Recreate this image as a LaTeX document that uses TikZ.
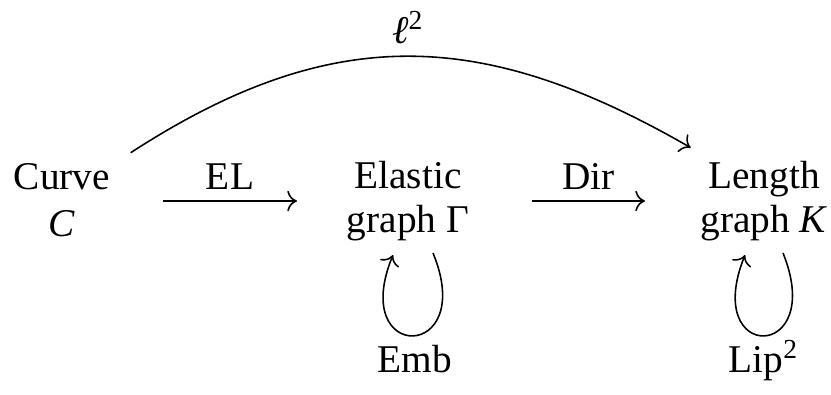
\documentclass[tikz,border=0pt]{standalone}
\usepackage{fontspec}
\setmainfont{Liberation Serif}
\usetikzlibrary{arrows.meta,calc}
\begin{document}
\begin{tikzpicture}[x=0.25445pt,y=0.25445pt,
  lbl/.style={inner sep=0pt,anchor=base,font=\fontsize{10}{12}\selectfont},
  arr/.style={-{Computer Modern Rightarrow},line width=0.4pt}]
\useasboundingbox (0,0) rectangle (831,-394);
% objects (first and second line)
\node[lbl] (curve) at (62,-189) {Curve};
\node[lbl] (curveC) at (62,-236) {\textit{C}};
\node[lbl] (elastic) at (408,-188) {Elastic};
\node[lbl] (elasticG) at (408,-232) {graph Γ};
\node[lbl] (length) at (764,-188) {Length};
\node[lbl] (lengthK) at (764,-232) {graph \textit{K}};
% horizontal arrows
\draw[arr] ($(curve.base)+(101,-12)$) -- ($(elastic.base)+(-111,-13)$)
  node[lbl,midway,yshift=2.8pt] (el) {EL};
\draw[arr] ($(elastic.base)+(124,-13)$) -- ($(length.base)+(-119,-13)$)
  node[lbl,midway,yshift=2.8pt] (dir) {Dir};
% top arc
\draw[arr] ($(curve.base)+(68.7,36.3)$) .. controls +(201.3,130.7) and +(-207.7,119.7) .. ($(length.base)+(-73.3,40.3)$)
  node[lbl,pos=0.5,yshift=3.3pt] (l2) {\textit{ℓ}\textsuperscript{2}};
% self loops
\draw[arr] ($(elastic.base)+(25,-65)$) .. controls +(45,-109) and +(-45,-109) .. ($(elastic.base)+(-15,-67)$)
  node[lbl,pos=0.5,yshift=-9.4pt,xshift=0.5pt] (emb) {Emb};
\draw[arr] ($(length.base)+(19,-65)$) .. controls +(44,-109) and +(-44,-109) .. ($(length.base)+(-19,-67)$)
  node[lbl,pos=0.5,yshift=-9.4pt] (lip) {Lip\textsuperscript{2}};
\end{tikzpicture}
\end{document}
